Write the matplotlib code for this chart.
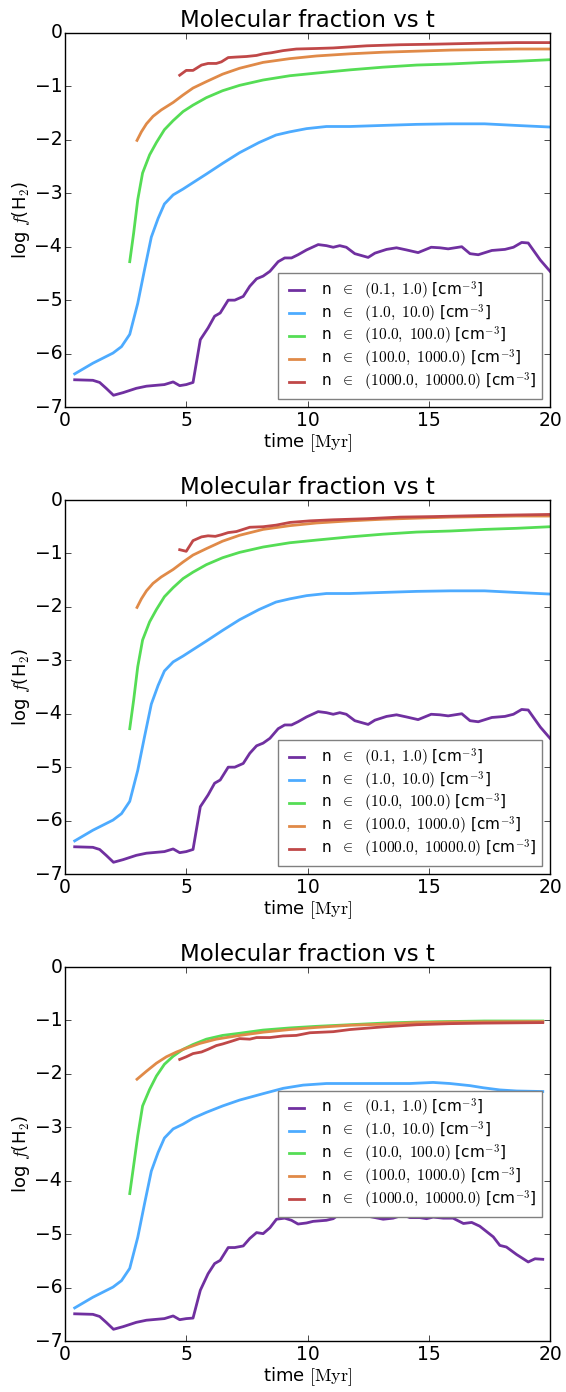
# Molecular fraction vs time for five density bins, three runs stacked
import numpy as np
from matplotlib import pyplot as plt

plt.style.use('classic')
plt.rcParams['figure.facecolor'] = 'white'
plt.rcParams['savefig.facecolor'] = 'white'
plt.rcParams['mathtext.fontset'] = 'cm'

# %% Data: log f(H2) per density bin
labels = [r"n $\ \in\ $ $(0.1,\ 1.0)$ [cm$^{-3}$]",
          r"n $\ \in\ $ $(1.0,\ 10.0)$ [cm$^{-3}$]",
          r"n $\ \in\ $ $(10.0,\ 100.0)$ [cm$^{-3}$]",
          r"n $\ \in\ $ $(100.0,\ 1000.0)$ [cm$^{-3}$]",
          r"n $\ \in\ $ $(1000.0,\ 10000.0)$ [cm$^{-3}$]"]
colors = ['#7030a0', '#4dabff', '#55dd55', '#e08a48', '#c04848']

# lowest bin (0.1 - 1.0), runs 1 and 2
t_low = [0.4, 1.15, 1.43, 1.7, 2.0, 2.4, 2.94, 3.36, 4.1, 4.46, 4.73, 5.0, 5.28,
         5.58, 5.9, 6.17, 6.4, 6.73, 7.0, 7.35, 7.62, 7.9, 8.17, 8.45, 8.79,
         9.06, 9.34, 9.61, 9.96, 10.44, 10.78, 11.06, 11.33, 11.6, 11.95, 12.5,
         12.78, 13.26, 13.67, 14.08, 14.56, 15.1, 15.46, 15.8, 16.36, 16.7,
         17.04, 17.6, 18.14, 18.49, 18.83, 19.1, 19.6, 20.0]
f_low = [-6.49, -6.5, -6.54, -6.65, -6.78, -6.73, -6.65, -6.61, -6.58, -6.53,
         -6.6, -6.58, -6.54, -5.74, -5.52, -5.3, -5.24, -5.0, -5.0, -4.93,
         -4.74, -4.6, -4.55, -4.46, -4.28, -4.21, -4.21, -4.15, -4.06, -3.96,
         -3.98, -4.01, -3.98, -4.01, -4.13, -4.2, -4.12, -4.05, -4.02, -4.06,
         -4.11, -4.01, -4.02, -4.04, -4.0, -4.13, -4.15, -4.07, -4.05, -4.01,
         -3.92, -3.93, -4.25, -4.46]
# lowest bin, run 3
t_low_c = [0.4, 1.15, 1.43, 1.7, 2.0, 2.4, 2.94, 3.36, 4.1, 4.46, 4.73, 5.0,
           5.28, 5.58, 5.9, 6.17, 6.4, 6.73, 7.0, 7.35, 7.62, 7.9, 8.17, 8.45,
           8.72, 9.06, 9.34, 9.61, 9.96, 10.23, 10.78, 11.06, 11.33, 11.75,
           12.09, 12.57, 13.12, 13.53, 13.95, 14.22, 14.63, 14.91, 15.18, 15.6,
           16.0, 16.43, 16.77, 17.1, 17.66, 17.93, 18.2, 18.62, 19.1, 19.38, 19.7]
f_low_c = [-6.49, -6.5, -6.54, -6.65, -6.78, -6.73, -6.65, -6.61, -6.58, -6.53,
           -6.6, -6.58, -6.57, -6.05, -5.74, -5.55, -5.49, -5.25, -5.25, -5.22,
           -5.08, -4.97, -4.99, -4.88, -4.72, -4.7, -4.74, -4.81, -4.79, -4.76,
           -4.74, -4.71, -4.62, -4.6, -4.65, -4.67, -4.72, -4.7, -4.64, -4.69,
           -4.69, -4.71, -4.68, -4.7, -4.7, -4.8, -4.78, -4.85, -5.05, -5.21,
           -5.24, -5.38, -5.52, -5.46, -5.47]

# bin 1.0 - 10.0
t_mid = [0.4, 1.15, 1.98, 2.33, 2.67, 3.0, 3.28, 3.56, 3.84, 4.1, 4.46, 4.87,
         5.28, 5.83, 6.5, 7.2, 8.0, 8.7, 9.27, 9.96, 10.78, 11.75, 13.1, 14.5,
         15.9, 17.3, 18.6, 20.0]
f_mid = [-6.38, -6.18, -5.99, -5.87, -5.64, -5.06, -4.43, -3.82, -3.47, -3.2,
         -3.03, -2.92, -2.8, -2.64, -2.44, -2.24, -2.05, -1.91, -1.85, -1.79,
         -1.75, -1.75, -1.73, -1.71, -1.7, -1.7, -1.73, -1.76]
t_mid_c = [0.4, 1.15, 1.98, 2.33, 2.67, 3.0, 3.28, 3.56, 3.84, 4.1, 4.46, 4.87,
           5.28, 5.83, 6.5, 7.2, 8.17, 9.0, 9.82, 10.78, 11.75, 13.12, 14.22,
           15.18, 15.87, 16.7, 17.25, 17.93, 18.62, 19.7]
f_mid_c = [-6.38, -6.18, -5.99, -5.87, -5.64, -5.06, -4.43, -3.82, -3.47, -3.2,
           -3.03, -2.94, -2.83, -2.72, -2.6, -2.49, -2.37, -2.27, -2.21, -2.18,
           -2.18, -2.18, -2.18, -2.16, -2.18, -2.22, -2.26, -2.3, -2.32, -2.33]

# bin 10.0 - 100.0
t_hi = [2.67, 2.83, 3.0, 3.2, 3.49, 3.77, 4.1, 4.46, 4.87, 5.28, 5.83, 6.5, 7.2,
        8.17, 9.27, 10.37, 11.75, 13.1, 14.5, 15.9, 17.3, 18.6, 20.0]
f_hi = [-4.28, -3.75, -3.12, -2.62, -2.28, -2.05, -1.81, -1.64, -1.47, -1.35,
        -1.21, -1.08, -0.98, -0.88, -0.8, -0.75, -0.69, -0.64, -0.6, -0.58,
        -0.55, -0.53, -0.5]
t_hi_c = [2.67, 2.83, 3.0, 3.2, 3.49, 3.77, 4.1, 4.46, 4.87, 5.28, 5.83, 6.5,
          7.2, 8.17, 9.27, 10.37, 11.75, 13.1, 14.5, 15.9, 17.3, 19.7]
f_hi_c = [-4.24, -3.72, -3.16, -2.6, -2.29, -2.04, -1.82, -1.67, -1.54, -1.45,
          -1.35, -1.28, -1.24, -1.18, -1.14, -1.11, -1.08, -1.05, -1.03, -1.02,
          -1.01, -1.01]

# bin 100.0 - 1000.0
t_dense = [2.97, 3.15, 3.36, 3.63, 3.97, 4.46, 4.87, 5.28, 5.83, 6.5, 7.2, 8.17,
           9.27, 10.37, 11.75, 13.1, 14.5, 15.9, 17.3, 18.6, 20.0]
f_dense = [-2.01, -1.85, -1.7, -1.56, -1.44, -1.3, -1.16, -1.03, -0.91, -0.77,
           -0.66, -0.55, -0.48, -0.43, -0.39, -0.36, -0.34, -0.32, -0.31, -0.3,
           -0.3]
t_dense_c = [2.97, 3.36, 3.77, 4.18, 4.6, 5.0, 5.56, 6.24, 7.2, 8.17, 9.27,
             10.37, 11.75, 13.1, 14.5, 15.9, 19.7]
f_dense_c = [-2.1, -1.95, -1.8, -1.68, -1.59, -1.52, -1.43, -1.35, -1.28, -1.22,
             -1.17, -1.13, -1.09, -1.07, -1.04, -1.03, -1.02]

# bin 1000.0 - 10000.0
t_core = [4.73, 5.0, 5.28, 5.63, 5.9, 6.24, 6.45, 6.73, 7.07, 7.48, 7.9, 8.17,
          8.51, 8.99, 9.54, 10.37, 11.06, 12.44, 13.81, 15.18, 17.25, 18.6, 20.0]
f_core_a = [-0.79, -0.7, -0.7, -0.6, -0.57, -0.57, -0.54, -0.46, -0.45, -0.44,
            -0.42, -0.39, -0.37, -0.33, -0.3, -0.29, -0.28, -0.24, -0.22, -0.21,
            -0.19, -0.18, -0.18]
t_core_b = [4.73, 5.0, 5.28, 5.63, 5.9, 6.2, 6.45, 6.73, 7.07, 7.62, 8.17, 8.71,
            9.27, 10.1, 11.06, 12.44, 13.81, 15.18, 17.25, 20.0]
f_core_b = [-0.93, -0.96, -0.76, -0.69, -0.67, -0.68, -0.65, -0.61, -0.59, -0.51,
            -0.5, -0.47, -0.42, -0.39, -0.37, -0.35, -0.32, -0.31, -0.29, -0.27]
t_core_c = [4.73, 5.0, 5.28, 5.63, 5.9, 6.24, 6.5, 6.86, 7.2, 7.62, 7.9, 8.45,
            8.99, 9.54, 10.1, 11.06, 11.75, 13.12, 14.5, 15.87, 17.25, 19.7]
f_core_c = [-1.73, -1.68, -1.62, -1.59, -1.54, -1.47, -1.44, -1.39, -1.34, -1.35,
            -1.32, -1.32, -1.29, -1.28, -1.23, -1.21, -1.17, -1.12, -1.08, -1.06,
            -1.05, -1.04]

runs = [
    [(t_low, f_low), (t_mid, f_mid), (t_hi, f_hi), (t_dense, f_dense),
     (t_core, f_core_a)],
    [(t_low, f_low), (t_mid, f_mid), (t_hi, f_hi), (t_dense, f_dense),
     (t_core_b, f_core_b)],
    [(t_low_c, f_low_c), (t_mid_c, f_mid_c), (t_hi_c, f_hi_c),
     (t_dense_c, f_dense_c), (t_core_c, f_core_c)],
]
legend_locs = ['lower right', 'lower right', 'center right']

# %% Plot
fig = plt.figure(figsize=(5.66, 13.92), dpi=100)
bottoms = [0.7076, 0.3721, 0.0366]
for run, bottom, loc in zip(runs, bottoms, legend_locs):
    ax = fig.add_axes([0.1148, bottom, 0.857, 0.2687])
    for (t, f), lab, c in zip(run, labels, colors):
        ax.plot(t, f, color=c, lw=2, label=lab)
    ax.set_xlim(0, 20)
    ax.set_ylim(-7, 0)
    ax.set_xticks(np.arange(0, 21, 5))
    ax.set_yticks(np.arange(-7, 1, 1))
    ax.tick_params(labelsize=13.5)
    ax.tick_params(axis='y', pad=2)
    ax.tick_params(axis='x', pad=3)
    ax.set_title("Molecular fraction vs t", fontsize=16.5, pad=4)
    ax.set_xlabel(r"time $[\mathrm{Myr}]$", fontsize=13, labelpad=1)
    ax.set_ylabel(r"log $f$(H$_2$)", fontsize=13, labelpad=2)
    leg = ax.legend(loc=loc, fontsize=11, handlelength=1.6, labelspacing=0.05)
    leg.get_frame().set_edgecolor('0.5')

fig.savefig("out.png", dpi=100)
